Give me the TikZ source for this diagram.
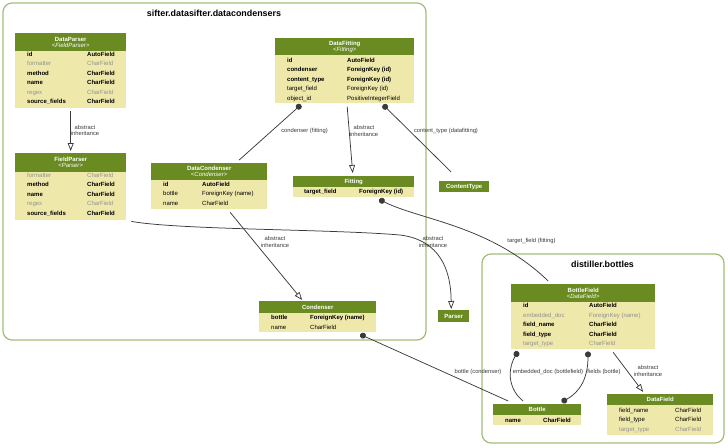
\documentclass[tikz,border=0pt]{standalone}
\usepackage{fontspec}
\setmainfont{Liberation Sans}
\usetikzlibrary{arrows.meta,calc}

\definecolor{hdrgreen}{HTML}{698B22}
\definecolor{rowyellow}{HTML}{EEE8AA}
\definecolor{clustergreen}{HTML}{A3BD78}
\definecolor{fieldgray}{HTML}{929292}
\definecolor{edgegray}{HTML}{3A3A3A}

\newcommand{\fields}[2]{\begin{tabular}[t]{@{}p{#1}@{}l@{}}#2\end{tabular}}
\newcommand{\inh}[1]{\textcolor{fieldgray}{#1}}

\begin{document}
\begin{tikzpicture}[x=1pt,y=-1pt,
  model/.style={fill=rowyellow,inner sep=0pt,anchor=north west},
  head/.style={fill=hdrgreen,inner sep=0pt,anchor=north west,text=white,align=center,font=\fontsize{6}{6}\selectfont},
  rows/.style={inner sep=0pt,anchor=base west,font=\fontsize{6}{9.5}\selectfont},
  lbl/.style={inner sep=0pt,text=edgegray,align=center,font=\fontsize{5.8}{6.4}\selectfont},
  fk/.style={edgegray,line width=0.75pt,{Circle[length=6pt,width=6pt]}-},
  mm/.style={edgegray,line width=0.75pt,{Circle[length=6pt,width=6pt]}-{Circle[length=6pt,width=6pt]}},
  inh/.style={edgegray,line width=0.75pt,-{Triangle[open,length=8pt,width=6pt]}},
  cluster/.style={draw=clustergreen,line width=1.2pt,rounded corners=9pt},
  ctitle/.style={inner sep=0pt,font=\fontsize{8.9}{9}\selectfont\bfseries}]

\useasboundingbox (0,0) rectangle (728,447);

% app clusters
\draw[cluster] (3,3) rectangle (426,340);
\node[ctitle] (sifter) at (214,13) {sifter.datasifter.datacondensers};
\draw[cluster] (482,254) rectangle (724,443);
\node[ctitle] (distiller) at (602.5,264) {distiller.bottles};

% DataParser
\node[model,minimum width=111pt,minimum height=75pt] (dataparser) at (15,33) {};
\node[head,minimum width=111pt,minimum height=18pt] (dataparser-h) at (dataparser.north west) {\textbf{DataParser}\\<\textit{FieldParser}>};
\node[rows] (dataparser-f) at (27,56) {\fields{60pt}{
  \textbf{id} & \textbf{AutoField}\\
  \inh{formatter} & \inh{CharField}\\
  \textbf{method} & \textbf{CharField}\\
  \textbf{name} & \textbf{CharField}\\
  \inh{regex} & \inh{CharField}\\
  \textbf{source\_fields} & \textbf{CharField}}};

% FieldParser
\node[model,minimum width=111pt,minimum height=66.5pt] (fieldparser) at (15,153) {};
\node[head,minimum width=111pt,minimum height=19pt] (fieldparser-h) at (fieldparser.north west) {\textbf{FieldParser}\\<\textit{Parser}>};
\node[rows] (fieldparser-f) at (27,177) {\fields{60pt}{
  \inh{formatter} & \inh{CharField}\\
  \textbf{method} & \textbf{CharField}\\
  \textbf{name} & \textbf{CharField}\\
  \inh{regex} & \inh{CharField}\\
  \textbf{source\_fields} & \textbf{CharField}}};

% DataCondenser
\node[model,minimum width=116pt,minimum height=46pt] (datacondenser) at (151,163) {};
\node[head,minimum width=116pt,minimum height=17pt] (datacondenser-h) at (datacondenser.north west) {\textbf{DataCondenser}\\<\textit{Condenser}>};
\node[rows] (datacondenser-f) at (163,186.3) {\fields{39pt}{
  \textbf{id} & \textbf{AutoField}\\
  bottle & ForeignKey (name)\\
  name & CharField}};

% DataFitting
\node[model,minimum width=139pt,minimum height=64.8pt] (datafitting) at (275,37.5) {};
\node[head,minimum width=139pt,minimum height=17.5pt] (datafitting-h) at (datafitting.north west) {\textbf{DataFitting}\\<\textit{Fitting}>};
\node[rows] (datafitting-f) at (287,62) {\fields{60pt}{
  \textbf{id} & \textbf{AutoField}\\
  \textbf{condenser} & \textbf{ForeignKey (id)}\\
  \textbf{content\_type} & \textbf{ForeignKey (id)}\\
  target\_field & ForeignKey (id)\\
  object\_id & PositiveIntegerField}};

% Fitting
\node[model,minimum width=121pt,minimum height=21pt] (fitting) at (293,176) {};
\node[head,minimum width=121pt,minimum height=11pt] (fitting-h) at (fitting.north west) {\textbf{Fitting}};
\node[rows] (fitting-f) at (304,193.7) {\fields{55pt}{
  \textbf{target\_field} & \textbf{ForeignKey (id)}}};

% ContentType
\node[head,minimum width=50pt,minimum height=11pt] (contenttype) at (439,181) {\textbf{ContentType}};

% Condenser
\node[model,minimum width=117pt,minimum height=31pt] (condenser) at (259,301) {};
\node[head,minimum width=117pt,minimum height=12pt] (condenser-h) at (condenser.north west) {\textbf{Condenser}};
\node[rows] (condenser-f) at (271,319.7) {\fields{39pt}{
  \textbf{bottle} & \textbf{ForeignKey (name)}\\
  name & CharField}};

% Parser
\node[head,minimum width=31pt,minimum height=12pt] (parser) at (438,310) {\textbf{Parser}};

% BottleField
\node[model,minimum width=144pt,minimum height=65pt] (bottlefield) at (511,284) {};
\node[head,minimum width=144pt,minimum height=18pt] (bottlefield-h) at (bottlefield.north west) {\textbf{BottleField}\\<\textit{DataField}>};
\node[rows] (bottlefield-f) at (523,307.7) {\fields{66pt}{
  \textbf{id} & \textbf{AutoField}\\
  \inh{embedded\_doc} & \inh{ForeignKey (name)}\\
  \textbf{field\_name} & \textbf{CharField}\\
  \textbf{field\_type} & \textbf{CharField}\\
  \inh{target\_type} & \inh{CharField}}};

% Bottle
\node[model,minimum width=88pt,minimum height=21pt] (bottle) at (493,404) {};
\node[head,minimum width=88pt,minimum height=11pt] (bottle-h) at (bottle.north west) {\textbf{Bottle}};
\node[rows] (bottle-f) at (505,422) {\fields{38pt}{
  \textbf{name} & \textbf{CharField}}};

% DataField
\node[model,minimum width=106pt,minimum height=41pt] (datafield) at (607,394) {};
\node[head,minimum width=106pt,minimum height=11pt] (datafield-h) at (datafield.north west) {\textbf{DataField}};
\node[rows] (datafield-f) at (619,412) {\fields{56pt}{
  field\_name & CharField\\
  field\_type & CharField\\
  \inh{target\_type} & \inh{CharField}}};

% relations
\draw[inh] ($(dataparser.south)+(0,3)$) -- ($(fieldparser.north)+(0,-2)$);
\node[lbl] (dataparser-l) at (85,130.5) {abstract\\inheritance};

\draw[fk] ($(datafitting.south west)+(26,2)$) -- ($(datacondenser.north)+(30,-3)$);
\node[lbl] (condenser-l) at (304.5,131) {condenser (fitting)};

\draw[inh] ($(datafitting.south)+(2.5,4)$) -- ($(fitting.north)+(-1,-3)$);
\node[lbl] (datafitting-l) at (364,131) {abstract\\inheritance};

\draw[fk] ($(datafitting.south west)+(108,2)$) -- ($(contenttype.north)+(-13,-9)$);
\node[lbl] (contenttype-l) at (446,131) {content\_type (datafitting)};

\draw[inh] ($(datacondenser.south)+(21,3)$) -- ($(condenser.north)+(-15.5,-1)$);
\node[lbl] (datacondenser-l) at (275,242) {abstract\\inheritance};

\draw[inh] ($(fieldparser.south east)+(5,1.5)$) .. controls (180,230) and (330,229) .. (400,235)
  .. controls (440,240) and (451,270) .. ($(parser.north)+(-2.5,-1)$);
\node[lbl] (fieldparser-l) at (433,242) {abstract\\inheritance};

\draw[fk] ($(fitting.south)+(25.5,2)$) .. controls (420,220) and (490,225) .. ($(bottlefield.north)+(-35,-3)$);
\node[lbl] (targetfield-l) at (531.5,241) {target\_field (fitting)};

\draw[fk] ($(condenser.south)+(42.5,2)$) -- ($(bottle.north)+(-29,-3)$);
\node[lbl] (bottle-l) at (478,372) {bottle (condenser)};

\draw[fk] ($(bottlefield.south west)+(7,2)$) .. controls (506,372) and (510,391) .. ($(bottle.north)+(-14,-3)$);
\node[lbl] (embedded-l) at (548,372) {embedded\_doc (bottlefield)};

\draw[mm] ($(bottlefield.south west)+(77,2)$) .. controls (588,378) and (580,392) .. ($(bottle.north)+(24.5,-2)$);
\node[lbl] (fields-l) at (604,372) {fields (bottle)};

\draw[inh] ($(bottlefield.south)+(30,3)$) -- ($(datafield.north)+(-17,-2)$);
\node[lbl] (bottlefield-l) at (648,371) {abstract\\inheritance};
\end{tikzpicture}
\end{document}
